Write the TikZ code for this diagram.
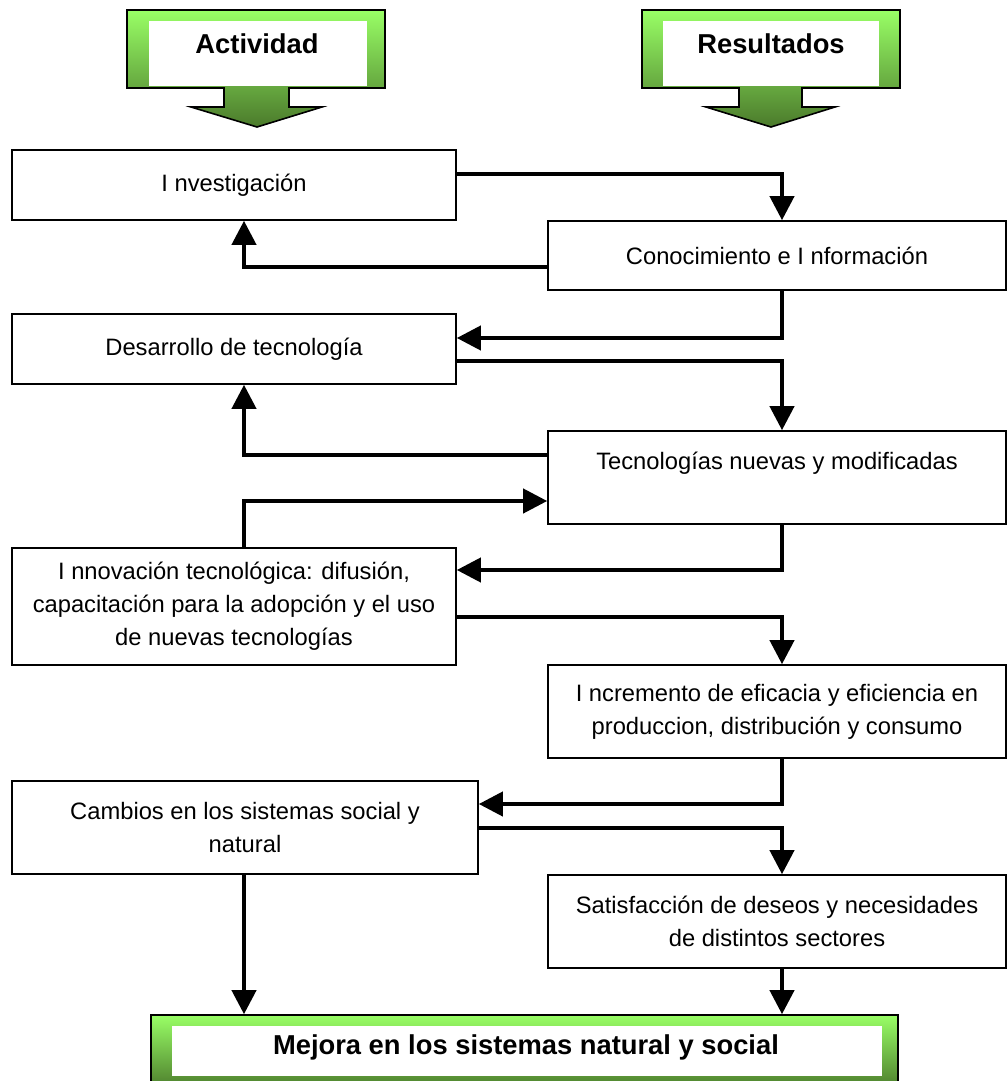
\documentclass[tikz,border=0pt]{standalone}
\usepackage{fontspec}
\setmainfont{Liberation Sans}
\usetikzlibrary{arrows.meta,calc}
\definecolor{gLight}{HTML}{99FF66}
\definecolor{gDark}{HTML}{4B7A2B}
\begin{document}
\begin{tikzpicture}[x=0.75pt,y=-0.75pt,
  box/.style={draw=black, line width=1.2pt, fill=white, rectangle, inner sep=0pt,
              align=center, font=\fontsize{17.8}{24.75}\selectfont},
  conn/.style={line width=3pt, -{Triangle[length=18pt,width=18pt]}},
  headtext/.style={font=\fontsize{20.5}{24}\selectfont\bfseries},
  grad/.style={draw=black, line width=1.2pt, top color=gLight, bottom color=gDark}]
\useasboundingbox (0,0) rectangle (1007,1081);

% header: Actividad
\path[grad] (127,10) -- (385,10) -- (385,88) -- (289,88) -- (289,107) -- (322,107)
  -- (257,127) -- (191,107) -- (224,107) -- (224,88) -- (127,88) -- cycle;
\fill[white] (149,21) rectangle (367,86);
\node[headtext] (act) at (257,44) {Actividad};

% header: Resultados
\path[grad] (642,10) -- (900,10) -- (900,88) -- (802,88) -- (802,107) -- (835,107)
  -- (771,127) -- (706,107) -- (739,107) -- (739,88) -- (642,88) -- cycle;
\fill[white] (663,21) rectangle (879,86);
\node[headtext] (res) at (771,44) {Resultados};

% bottom box
\node[grad, rectangle, minimum width=560.25pt, minimum height=56.25pt, inner sep=0pt] (mej) at (524.5,1052.5) {};
\fill[white] (172,1026) rectangle (882,1076);
\node[headtext] (mejt) at (526,1047) {Mejora en los sistemas natural y social};

% boxes
\node[box, minimum width=333pt, minimum height=52.5pt] (inv) at (234,185) {I nvestigación};
\node[box, minimum width=343.5pt, minimum height=51.75pt] (con) at (777,255.5) {Conocimiento e I nformación};
\node[box, minimum width=333pt, minimum height=52.5pt] (des) at (234,349) {Desarrollo de tecnología};
\node[box, minimum width=343.5pt, minimum height=69.75pt] (tec) at (777,477.5) {Tecnologías nuevas y modificadas\\\mbox{}};
\node[box, minimum width=333pt, minimum height=87.75pt] (inn) at (234,606.5) {I nnovación tecnológica: difusión,\\capacitación para la adopción y el uso\\de nuevas tecnologías};
\node[box, minimum width=343.5pt, minimum height=69.75pt] (inc) at (777,711.5) {I ncremento de eficacia y eficiencia en\\produccion, distribución y consumo};
\node[box, minimum width=349.5pt, minimum height=69.75pt] (cam) at (245,827.5) {Cambios en los sistemas social y\\natural};
\node[box, minimum width=343.5pt, minimum height=69.75pt] (sat) at (777,921.5) {Satisfacción de deseos y necesidades\\de distintos sectores};

\coordinate (L) at (244,0);
\coordinate (R) at (782,0);

% connectors
\draw[conn] ($(inv.east)+(0,-11)$) -| (R |- con.north);
\draw[conn] ($(con.west)+(0,11.5)$) -| (L |- inv.south);
\draw[conn] (R |- con.south) |- ($(des.east)+(0,-11)$);
\draw[conn] ($(des.east)+(0,12)$) -| (R |- tec.north);
\draw[conn] ($(tec.west)+(0,-22.5)$) -| (L |- des.south);
\draw[conn] (L |- inn.north) |- ($(tec.west)+(0,23.5)$);
\draw[conn] (R |- tec.south) |- ($(inn.east)+(0,-36.5)$);
\draw[conn] ($(inn.east)+(0,10.5)$) -| (R |- inc.north);
\draw[conn] (R |- inc.south) |- ($(cam.east)+(0,-23.5)$);
\draw[conn] (cam.east) -| (R |- sat.north);
\draw[conn] (L |- cam.south) -- (L |- mej.north);
\draw[conn] (R |- sat.south) -- (R |- mej.north);
\end{tikzpicture}
\end{document}
